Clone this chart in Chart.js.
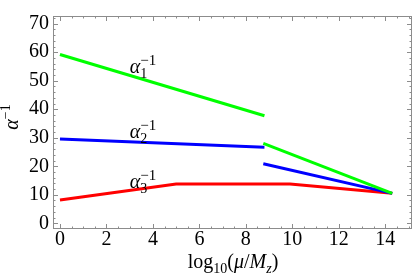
<!DOCTYPE html>
<html>
<head>
<meta charset="utf-8">
<script src="https://cdn.jsdelivr.net/npm/chart.js@4.4.1/dist/chart.umd.min.js"></script>
<style>
  body { margin: 0; background: #fff; }
  #wrap { width: 415px; height: 280px; }
</style>
</head>
<body>
<div id="wrap"><canvas id="couplingChart" width="415" height="280"></canvas></div>
<script>
// running inverse couplings vs log10(mu/Mz)
const lowScale = [0, 8.8];
const alpha1Low = [59.2, 37.7];
const alpha2Low = [29.6, 26.7];

const highScale = [8.75, 14.3];
const alpha1High = [28.0, 10.5];
const alpha2High = [20.9, 10.5];

const alpha3Scale = [0, 5.0, 9.9, 14.3];
const alpha3Vals = [8.2, 13.8, 13.8, 10.5];

const xTicks = [0, 2, 4, 6, 8, 10, 12, 14];
const yTicks = [0, 10, 20, 30, 40, 50, 60, 70];

// curve labels (subscript, x, baseline y in data units)
const curveLabels = [
  { sub: '1', x: 3.0, y: 52.7 },
  { sub: '2', x: 3.0, y: 30.0 },
  { sub: '3', x: 3.0, y: 12.4 }
];

const SERIF = "'Liberation Serif', 'Times New Roman', serif";

function toPoints(xs, ys) {
  return xs.map((x, i) => ({ x: x, y: ys[i] }));
}

function line(xs, ys, color) {
  return {
    data: toPoints(xs, ys),
    borderColor: color,
    borderWidth: 3,
    showLine: true,
    pointRadius: 0,
    fill: false
  };
}

// draw a row of text pieces with different fonts / offsets
function drawRuns(ctx, x, y, runs) {
  runs.forEach(r => {
    ctx.font = r.font;
    ctx.fillText(r.t, x, y + (r.dy || 0));
    if (!r.stack) x += ctx.measureText(r.t).width;
  });
}

function runsWidth(ctx, runs) {
  let w = 0;
  runs.forEach(r => { ctx.font = r.font; if (!r.stack) w += ctx.measureText(r.t).width; });
  return w;
}

const framePlugin = {
  id: 'frame',
  beforeDatasetsDraw(chart) {
    const { ctx, chartArea: a, scales: { x, y } } = chart;
    ctx.save();
    ctx.strokeStyle = '#8c8c8c';
    ctx.lineWidth = 1;
    ctx.beginPath();
    // x ticks, bottom and top, minor every 0.5
    for (let v = 0; v <= 15; v += 0.5) {
      const px = Math.round(x.getPixelForValue(v)) + 0.5;
      const len = v % 2 === 0 ? 5 : 2.5;
      ctx.moveTo(px, a.bottom); ctx.lineTo(px, a.bottom - len);
      ctx.moveTo(px, a.top); ctx.lineTo(px, a.top + len);
    }
    // y ticks, left and right, minor every 2
    for (let v = 0; v <= 72; v += 2) {
      const py = Math.round(y.getPixelForValue(v)) + 0.5;
      const len = v % 10 === 0 ? 5 : 2.5;
      ctx.moveTo(a.left, py); ctx.lineTo(a.left + len, py);
      ctx.moveTo(a.right, py); ctx.lineTo(a.right - len, py);
    }
    ctx.stroke();
    ctx.strokeRect(a.left + 0.5, a.top + 0.5, a.right - a.left - 1, a.bottom - a.top - 1);
    ctx.restore();
  },
  afterDraw(chart) {
    const { ctx, scales: { x, y } } = chart;
    ctx.save();
    ctx.fillStyle = '#000';
    ctx.textBaseline = 'alphabetic';

    // axis title x
    const xRuns = [
      { t: 'log', font: '20px ' + SERIF },
      { t: '10', font: '14px ' + SERIF, dy: 5 },
      { t: '(', font: '20px ' + SERIF },
      { t: 'μ', font: 'italic 20px ' + SERIF },
      { t: '/', font: '20px ' + SERIF },
      { t: 'M', font: 'italic 20px ' + SERIF },
      { t: 'z', font: 'italic 14px ' + SERIF, dy: 5 },
      { t: ')', font: '20px ' + SERIF }
    ];
    drawRuns(ctx, 233 - runsWidth(ctx, xRuns) / 2, 268, xRuns);

    // axis title y (rotated)
    const yRuns = [
      { t: 'α', font: 'italic 20px ' + SERIF },
      { t: '−1', font: '14px ' + SERIF, dy: -8 }
    ];
    ctx.save();
    ctx.translate(18, 117);
    ctx.rotate(-Math.PI / 2);
    drawRuns(ctx, -runsWidth(ctx, yRuns) / 2, 0, yRuns);
    ctx.restore();

    // curve labels
    curveLabels.forEach(l => {
      drawRuns(ctx, x.getPixelForValue(l.x), y.getPixelForValue(l.y), [
        { t: 'α', font: 'italic 20px ' + SERIF },
        { t: l.sub, font: '14px ' + SERIF, dy: 5, stack: true },
        { t: '−1', font: '15px ' + SERIF, dy: -8 }
      ]);
    });
    ctx.restore();
  }
};

Chart.defaults.font.family = SERIF;
Chart.defaults.font.size = 20;
Chart.defaults.color = '#000';

new Chart(document.getElementById('couplingChart').getContext('2d'), {
  type: 'scatter',
  data: {
    datasets: [
      line(lowScale, alpha1Low, '#00ff00'),
      line(highScale, alpha1High, '#00ff00'),
      line(lowScale, alpha2Low, '#0000ff'),
      line(highScale, alpha2High, '#0000ff'),
      line(alpha3Scale, alpha3Vals, '#ff0000')
    ]
  },
  options: {
    responsive: false,
    animation: false,
    devicePixelRatio: 1,
    layout: { padding: { top: 5, right: 3, left: 0, bottom: 0 } },
    plugins: {
      legend: { display: false },
      tooltip: { enabled: false }
    },
    scales: {
      x: {
        type: 'linear',
        min: -0.3,
        max: 15.15,
        grid: { display: false, drawTicks: false },
        border: { display: false },
        ticks: { padding: 0, font: { size: 20, lineHeight: 1.05 } },
        afterBuildTicks: scale => { scale.ticks = xTicks.map(v => ({ value: v })); },
        afterFit: scale => { scale.height = 51; }
      },
      y: {
        type: 'linear',
        min: -2,
        max: 72.7,
        grid: { display: false, drawTicks: false },
        border: { display: false },
        ticks: { padding: 4, font: { size: 20 } },
        afterBuildTicks: scale => { scale.ticks = yTicks.map(v => ({ value: v })); },
        afterFit: scale => { scale.width = 53; }
      }
    }
  },
  plugins: [framePlugin]
});
</script>
</body>
</html>
